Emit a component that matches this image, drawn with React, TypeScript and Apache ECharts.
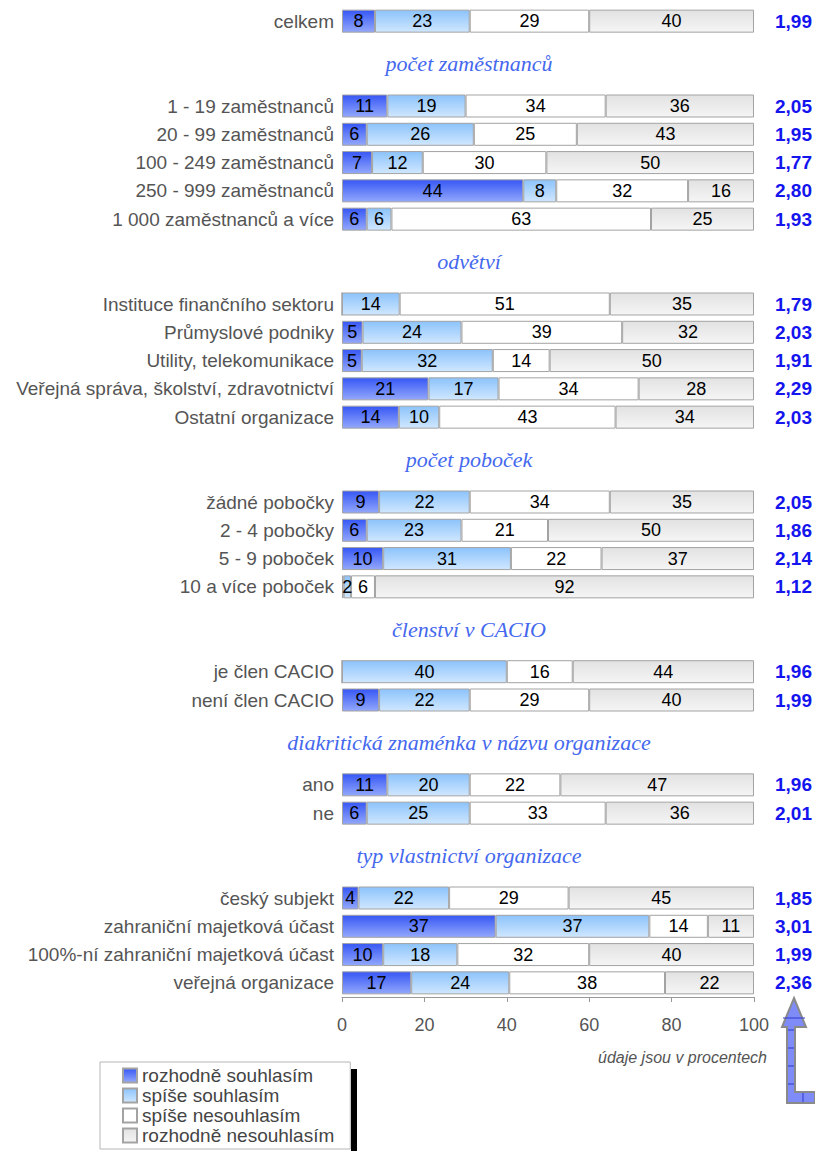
import { useEffect, useRef } from 'react';
import * as echarts from 'echarts';

const categories = [
  'celkem', '', '',
  '1 - 19 zaměstnanců', '20 - 99 zaměstnanců', '100 - 249 zaměstnanců', '250 - 999 zaměstnanců', '1 000 zaměstnanců a více', '', '',
  'Instituce finančního sektoru', 'Průmyslové podniky', 'Utility, telekomunikace', 'Veřejná správa, školství, zdravotnictví', 'Ostatní organizace', '', '',
  'žádné pobočky', '2 - 4 pobočky', '5 - 9 poboček', '10 a více poboček', '', '',
  'je člen CACIO', 'není člen CACIO', '', '',
  'ano', 'ne', '', '',
  'český subjekt', 'zahraniční majetková účast', '100%-ní zahraniční majetková účast', 'veřejná organizace',
];

const seriesNames = ['rozhodně souhlasím', 'spíše souhlasím', 'spíše nesouhlasím', 'rozhodně nesouhlasím'];

const N = null;
const strongAgree = [8, N, N, 11, 6, 7.3, 44, 6, N, N, 0, 5, 4.8, 21, 13.8, N, N, 9, 6, 10, 0.4, N, N, 0, 9, N, N, 11, 6, N, N, 4, 37.3, 10, 16.8];
const ratherAgree = [23, N, N, 19, 26, 12.3, 8, 6, N, N, 14, 24, 31.8, 17, 9.8, N, N, 22, 23, 31, 1.8, N, N, 40, 22, N, N, 20, 25, N, N, 22, 37.3, 18, 23.8];
const ratherDisagree = [29, N, N, 34, 25, 30, 32, 63, N, N, 51, 39, 13.8, 34, 42.8, N, N, 34, 21, 22, 5.8, N, N, 16, 29, N, N, 22, 33, N, N, 29, 14.2, 32, 37.8];
const strongDisagree = [40, N, N, 36, 43, 50.4, 16, 25, N, N, 35, 32, 49.6, 28, 33.6, N, N, 35, 50, 37, 92, N, N, 44, 40, N, N, 47, 36, N, N, 45, 11.2, 40, 21.6];

const averages = [
  '1,99', '', '',
  '2,05', '1,95', '1,77', '2,80', '1,93', '', '',
  '1,79', '2,03', '1,91', '2,29', '2,03', '', '',
  '2,05', '1,86', '2,14', '1,12', '', '',
  '1,96', '1,99', '', '',
  '1,96', '2,01', '', '',
  '1,85', '3,01', '1,99', '2,36',
];

const headers = ['počet zaměstnanců', 'odvětví', 'počet poboček', 'členství v CACIO', 'diakritická znaménka v názvu organizace', 'typ vlastnictví organizace'];
const headerSlots = [1, 8, 15, 21, 25, 29];

const xTicks = { min: 0, max: 100, interval: 20 };
const note = 'údaje jsou v procentech';

const FONT = '"Liberation Sans", Arial, sans-serif';

export default function App() {
  const ref = useRef<HTMLDivElement>(null);
  useEffect(() => {
    document.body.style.margin = '0';
    const chart = echarts.init(ref.current!, null, { renderer: 'svg' });
    const grad = (a: string, b: string) =>
      new echarts.graphic.LinearGradient(0, 0, 0, 1, [
        { offset: 0, color: a },
        { offset: 1, color: b },
      ]);
    const colors = [
      grad('#3657f5', '#93a8fc'),
      grad('#8cc3fb', '#d0e7ff'),
      '#ffffff',
      grad('#e2e2e2', '#f5f5f5'),
    ];
    const datas = [strongAgree, ratherAgree, ratherDisagree, strongDisagree];
    chart.setOption({
      animation: false,
      textStyle: { fontFamily: FONT },
      grid: { left: 342, right: 61, top: 7, bottom: 154 },
      xAxis: {
        type: 'value',
        min: xTicks.min,
        max: xTicks.max,
        interval: xTicks.interval,
        axisLine: { show: true, lineStyle: { color: '#999' } },
        axisTick: { show: true, length: 5, lineStyle: { color: '#999' } },
        splitLine: { show: false },
        axisLabel: { color: '#555', fontSize: 18, margin: 19, fontFamily: FONT },
      },
      yAxis: [
        {
          type: 'category',
          data: categories,
          inverse: true,
          axisLine: { show: false },
          axisTick: { show: false },
          axisLabel: { interval: 0, color: '#555', fontSize: 19, margin: 8, fontFamily: FONT },
        },
        {
          type: 'category',
          data: averages,
          inverse: true,
          position: 'right',
          axisLine: { show: false },
          axisTick: { show: false },
          axisLabel: {
            interval: 0,
            align: 'right',
            margin: 58,
            color: '#1414ee',
            fontWeight: 'bold',
            fontSize: 19,
            fontFamily: FONT,
          },
        },
      ],
      legend: {
        orient: 'vertical',
        left: 100,
        top: 1062,
        height: 140,
        padding: [4, 16, 4, 22],
        itemWidth: 14,
        itemHeight: 14,
        itemGap: 1,
        icon: 'rect',
        backgroundColor: '#fff',
        borderColor: '#b5b5b5',
        borderWidth: 1,
        borderRadius: 0,
        textStyle: { fontSize: 19, color: '#444', lineHeight: 14, fontFamily: FONT },
        data: seriesNames,
      },
      series: seriesNames.map((name, i) => ({
        type: 'bar',
        name,
        stack: 'total',
        data: datas[i],
        barWidth: 23,
        itemStyle: { color: colors[i], borderColor: '#a3a3a3', borderWidth: 1 },
        label: {
          show: true,
          position: 'inside',
          color: '#000',
          fontSize: 18,
          fontFamily: FONT,
          formatter: (p: any) =>
            p.value == null || p.value < 0.5 ? '' : String(Math.round(p.value)),
        },
      })),
    });

    const headerEls = headers.map((h, i) => {
      const s = headerSlots[i];
      const y1 = chart.convertToPixel({ yAxisIndex: 0 }, s) as number;
      const y2 = chart.convertToPixel({ yAxisIndex: 0 }, s + 1) as number;
      return {
        type: 'text',
        x: 469,
        y: (y1 + y2) / 2,
        style: {
          text: h,
          fill: '#4468ee',
          font: 'italic 22px "Liberation Serif", "Times New Roman", serif',
          textAlign: 'center',
          textVerticalAlign: 'middle',
        },
      };
    });

    const arrowLines = [1030, 1048, 1066, 1084].map((y) => ({
      type: 'line',
      shape: { x1: 788, y1: y, x2: 794, y2: y },
      style: { stroke: '#2a3bd0', lineWidth: 1 },
    }));

    chart.setOption({
      graphic: [
        ...headerEls,
        {
          type: 'text',
          x: 767,
          y: 1057,
          style: {
            text: note,
            fill: '#555',
            font: `italic 16px ${FONT}`,
            textAlign: 'right',
            textVerticalAlign: 'middle',
          },
        },
        {
          type: 'rect',
          shape: { x: 351, y: 1069, width: 6, height: 90 },
          style: { fill: '#000' },
          z: 0,
        },
        {
          type: 'polygon',
          shape: {
            points: [
              [794, 998], [806, 1027], [795, 1027], [795, 1092], [815, 1092],
              [815, 1103], [787, 1103], [787, 1027], [782, 1027],
            ],
          },
          style: { fill: '#7f8bf7', stroke: '#8a8a8a', lineWidth: 2 },
        },
        ...arrowLines,
        {
          type: 'line',
          shape: { x1: 783, y1: 1018, x2: 805, y2: 1018 },
          style: { stroke: '#2a3bd0', lineWidth: 1 },
        },
        {
          type: 'line',
          shape: { x1: 803, y1: 1093, x2: 803, y2: 1102 },
          style: { stroke: '#2a3bd0', lineWidth: 1 },
        },
      ],
    });

    return () => chart.dispose();
  }, []);
  return (
    <div
      ref={ref}
      style={{ position: 'absolute', left: 0, top: 0, width: 815, height: 1151 }}
    />
  );
}
